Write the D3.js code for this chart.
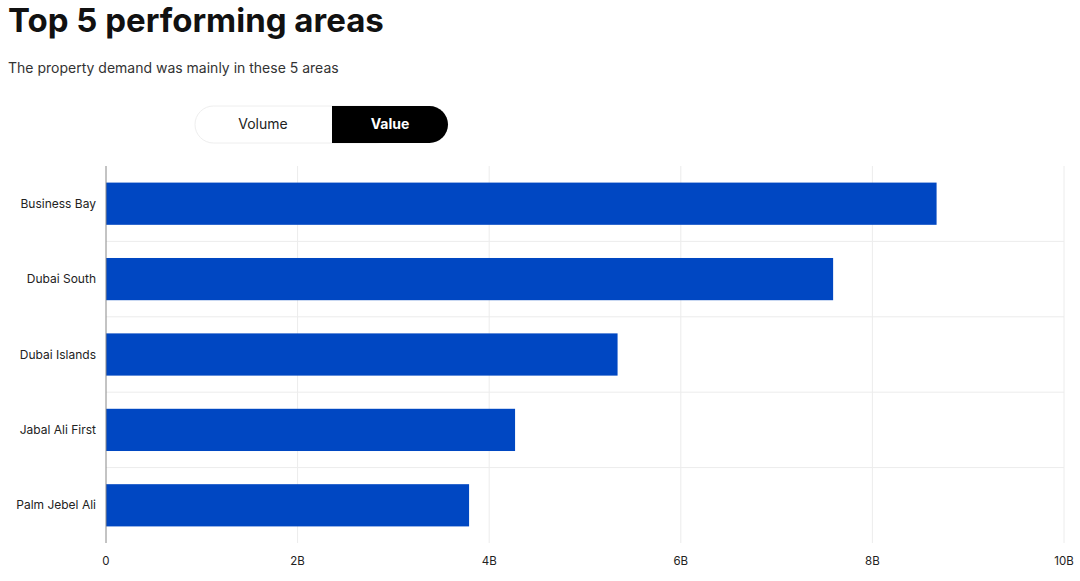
<!DOCTYPE html>
<html><head><meta charset="utf-8">
<script src="https://cdn.jsdelivr.net/npm/d3@7"></script>
<style>
body{margin:0;background:#fff;font-family:Inter,"Noto Sans",sans-serif;}
</style></head>
<body><svg width="1080" height="581"></svg>
<script>
const areas = ['Business Bay', 'Dubai South', 'Dubai Islands', 'Jabal Ali First', 'Palm Jebel Ali'];
const values = [8.67, 7.59, 5.34, 4.27, 3.79]; // billions
const ticks = [0, 2, 4, 6, 8, 10];

const svg = d3.select('svg');
const m = {left: 106, right: 1064, top: 166, bottom: 543};

// header
svg.append('text').attr('x', 8).attr('y', 32).attr('font-size', 33).attr('font-weight', 700)
  .attr('fill', '#111').text('Top 5 performing areas');
svg.append('text').attr('x', 8).attr('y', 73).attr('font-size', 14).attr('fill', '#333')
  .text('The property demand was mainly in these 5 areas');

// toggle
svg.append('rect').attr('x', 195).attr('y', 106).attr('width', 200).attr('height', 37).attr('rx', 18.5)
  .attr('fill', '#fff').attr('stroke', '#eee');
svg.append('rect').attr('x', 332).attr('y', 106).attr('width', 116).attr('height', 37).attr('rx', 18.5)
  .attr('fill', '#000');
svg.append('rect').attr('x', 332).attr('y', 106).attr('width', 30).attr('height', 37).attr('fill', '#000');
svg.append('text').attr('x', 263).attr('y', 129).attr('text-anchor', 'middle').attr('font-size', 14)
  .attr('fill', '#222').text('Volume');
svg.append('text').attr('x', 390).attr('y', 129).attr('text-anchor', 'middle').attr('font-size', 14)
  .attr('font-weight', 700).attr('fill', '#fff').text('Value');

const x = d3.scaleLinear().domain([0, 10]).range([m.left, m.right]);
const y = d3.scaleBand().domain(areas).range([m.top, m.bottom]).paddingInner(0.44).paddingOuter(0.22);
const step = y.step();

// grid
svg.append('g').selectAll('line').data(ticks.slice(1)).join('line')
  .attr('x1', d => x(d)).attr('x2', d => x(d)).attr('y1', m.top).attr('y2', m.bottom)
  .attr('stroke', '#ececec');
svg.append('g').selectAll('line').data(areas.slice(1)).join('line')
  .attr('x1', m.left).attr('x2', m.right)
  .attr('y1', d => y(d) - step * 0.22).attr('y2', d => y(d) - step * 0.22)
  .attr('stroke', '#ececec');

// bars
svg.append('g').selectAll('rect').data(areas).join('rect')
  .attr('x', x(0)).attr('y', d => y(d)).attr('height', y.bandwidth())
  .attr('width', (d, i) => x(values[i]) - x(0)).attr('fill', '#0047c2');

svg.append('line').attr('x1', m.left).attr('x2', m.left).attr('y1', m.top).attr('y2', m.bottom)
  .attr('stroke', '#888');

// labels
svg.append('g').selectAll('text').data(areas).join('text')
  .attr('x', 96).attr('y', d => y(d) + y.bandwidth() / 2 + 4).attr('text-anchor', 'end')
  .attr('font-size', 12).attr('fill', '#222').text(d => d);
svg.append('g').selectAll('text').data(ticks).join('text')
  .attr('x', d => x(d)).attr('y', 565).attr('text-anchor', 'middle')
  .attr('font-size', 11.5).attr('fill', '#222').text(d => d === 0 ? '0' : d + 'B');
</script></body></html>
